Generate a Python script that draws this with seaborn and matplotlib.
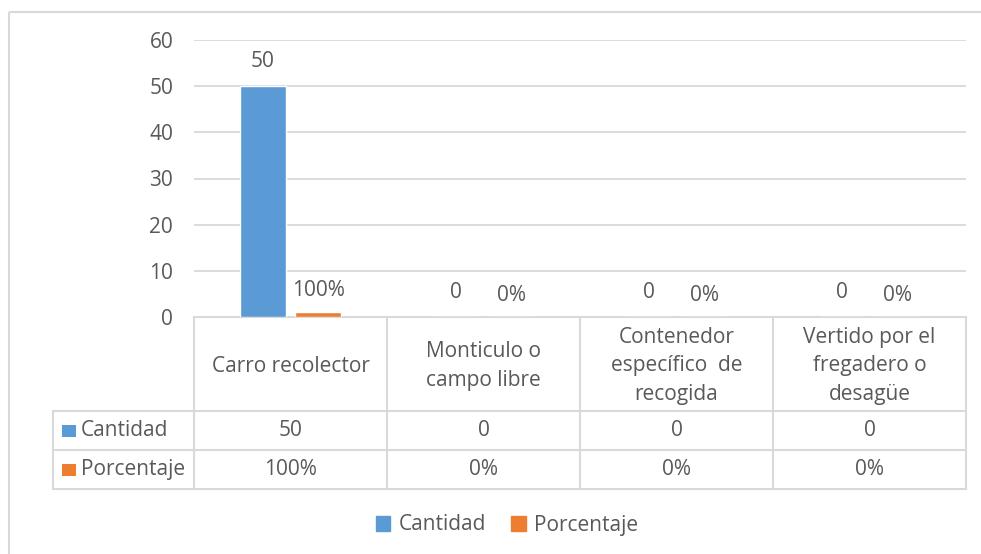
import matplotlib
matplotlib.use("Agg")
import matplotlib.pyplot as plt
import seaborn as sns
import pandas as pd
from matplotlib.patches import Rectangle

categories = ["Carro recolector", "Monticulo o\ncampo libre",
              "Contenedor\nespecífico  de\nrecogida", "Vertido por el\nfregadero o\ndesagüe"]
cantidad = [50, 0, 0, 0]
porcentaje = [1, 0, 0, 0]
porcentaje_labels = ["100%", "0%", "0%", "0%"]
series = ["Cantidad", "Porcentaje"]
colors = ["#5B9BD5", "#ED7D31"]
yticks = [0, 10, 20, 30, 40, 50, 60]

df = pd.DataFrame({
    "cat": categories * 2,
    "serie": [series[0]] * 4 + [series[1]] * 4,
    "valor": cantidad + porcentaje,
})

sns.set_theme(style="white")
plt.rcParams["font.family"] = ["Open Sans", "DejaVu Sans"]
TXT = "#595959"
GRID = "#D9D9D9"
FS = 15

W, H = 981, 554
fig = plt.figure(figsize=(W / 100, H / 100), dpi=100)
fig.patch.set_facecolor("white")

def px(x0, y0, x1, y1):
    return [x0 / W, 1 - y1 / H, (x1 - x0) / W, (y1 - y0) / H]

# overlay axes in pixel coordinates
ov = fig.add_axes([0, 0, 1, 1])
ov.set_xlim(0, W)
ov.set_ylim(H, 0)
ov.axis("off")
ov.add_patch(Rectangle((9, 12), W + 20, H + 20, fill=False, ec=GRID, lw=1.5))

ax = fig.add_axes(px(194, 40, 966, 317))
sns.barplot(data=df, x="cat", y="valor", hue="serie", palette=colors,
            width=0.57, gap=0.18, ax=ax, legend=False, saturation=1)
ax.set_ylim(0, 60)
ax.set_xlim(-0.5, 3.5)
ax.set_yticks(yticks)
ax.set_yticklabels([str(t) for t in yticks], color=TXT, fontsize=FS)
ax.tick_params(axis="y", length=0, pad=15)
ax.set_xticks([])
ax.set_xlabel("")
ax.set_ylabel("")
ax.grid(axis="y", color=GRID, lw=1.3)
ax.set_axisbelow(True)
for s in ax.spines.values():
    s.set_visible(False)
ax.patch.set_alpha(0)

cont0, cont1 = ax.containers[0], ax.containers[1]
ax.bar_label(cont0, labels=[str(v) for v in cantidad], padding=10, color=TXT, fontsize=FS)
ax.bar_label(cont1, labels=porcentaje_labels, padding=8, color=TXT, fontsize=FS)

# data table
xs = [194, 387, 580, 773, 966]
y_top, y_h, y_r1, y_r2 = 317, 411, 450, 489
lw = 1.5
ov.plot([194, 966], [y_top, y_top], color=GRID, lw=lw)
for x in xs:
    ov.plot([x, x], [y_top, y_r2], color=GRID, lw=lw)
ov.plot([53, 53], [y_h, y_r2], color=GRID, lw=lw)
for y in [y_h, y_r1, y_r2]:
    ov.plot([53, 966], [y, y], color=GRID, lw=lw)

for i, c in enumerate(categories):
    cx = (xs[i] + xs[i + 1]) / 2
    ov.text(cx, (y_top + y_h) / 2 + 2, c, ha="center", va="center", color=TXT,
            fontsize=FS, linespacing=1.45)
    ov.text(cx, (y_h + y_r1) / 2, str(cantidad[i]), ha="center", va="center",
            color=TXT, fontsize=FS)
    ov.text(cx, (y_r1 + y_r2) / 2, porcentaje_labels[i], ha="center", va="center",
            color=TXT, fontsize=FS)

for j, (s, col) in enumerate(zip(series, colors)):
    yc = (y_h + y_r1) / 2 if j == 0 else (y_r1 + y_r2) / 2
    ov.add_patch(Rectangle((62, yc - 6), 14, 12, color=col, lw=0))
    ov.text(81, yc, s, ha="left", va="center", color=TXT, fontsize=FS)

# legend
handles = [Rectangle((0, 0), 1, 1, color=c) for c in colors]
leg = fig.legend(handles, series, loc="center", bbox_to_anchor=(507 / W, 1 - 525 / H),
                 ncol=2, frameon=False, fontsize=FS, handlelength=0.7, handleheight=0.7,
                 handletextpad=0.4, columnspacing=1.2)
for t in leg.get_texts():
    t.set_color(TXT)

fig.savefig("out.png", dpi=100, facecolor="white")
